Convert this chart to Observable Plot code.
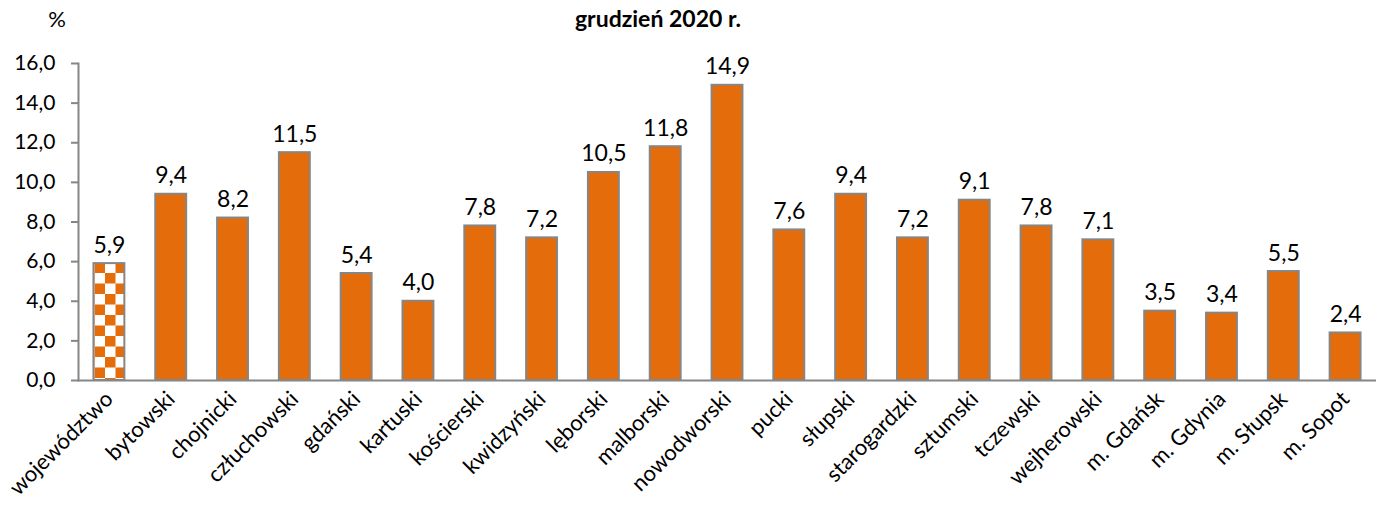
<!DOCTYPE html>
<html>
<head>
<meta charset="utf-8">
<script src="https://cdn.jsdelivr.net/npm/d3@7"></script>
<script src="https://cdn.jsdelivr.net/npm/@observablehq/plot@0.6"></script>
<style>
  html, body { margin: 0; padding: 0; background: #fff; }
  #wrap { position: relative; width: 1384px; height: 505px; font-family: Lato, "Open Sans", sans-serif; }
  #title { position: absolute; top: 4px; left: 658px; transform: translateX(-50%); font-weight: bold; font-size: 23px; color: #000; white-space: nowrap; }
  #unit { position: absolute; top: 5px; left: 57px; transform: translateX(-50%); font-size: 22px; color: #000; }
  svg { position: absolute; top: 0; left: 0; }
</style>
</head>
<body>
<div id="wrap">
  <div id="unit">%</div>
  <div id="title">grudzień 2020 r.</div>
</div>
<script>
const categories = ["województwo","bytowski","chojnicki","człuchowski","gdański","kartuski","kościerski","kwidzyński","lęborski","malborski","nowodworski","pucki","słupski","starogardzki","sztumski","tczewski","wejherowski","m. Gdańsk","m. Gdynia","m. Słupsk","m. Sopot"];
const values = [5.9,9.4,8.2,11.5,5.4,4.0,7.8,7.2,10.5,11.8,14.9,7.6,9.4,7.2,9.1,7.8,7.1,3.5,3.4,5.5,2.4];
const yTicks = [0,2,4,6,8,10,12,14,16];

const data = categories.map((c, i) => ({cat: c, v: values[i], total: i === 0}));
const fmt = d => d.toFixed(1).replace(".", ",");

const plot = Plot.plot({
  width: 1384,
  height: 505,
  marginLeft: 78,
  marginRight: 8,
  marginTop: 63,
  marginBottom: 125,
  style: {fontFamily: "Lato, 'Open Sans', sans-serif", background: "transparent", color: "#000"},
  x: {domain: categories, paddingInner: 0.5, paddingOuter: 0.25, round: false, label: null},
  y: {domain: [0, 16], label: null},
  marks: [
    Plot.axisY({ticks: yTicks, tickFormat: fmt, tickSize: 7, tickPadding: 16, stroke: "#868686", strokeWidth: 2, fontSize: 21, label: null}),
    Plot.axisX({tickSize: 0, tickPadding: 15, tickRotate: -45, fontSize: 22, label: null}),
    Plot.barY(data, {x: "cat", y: "v", fill: d => d.total ? "url(#checker)" : "#E46C0A", stroke: "#868686", strokeWidth: 2}),
    Plot.text(data, {x: "cat", y: "v", text: d => fmt(d.v), dy: -11, lineAnchor: "bottom", fontSize: 23, fill: "#000"}),
    Plot.ruleY([0], {stroke: "#868686", strokeWidth: 2}),
    Plot.frame({anchor: "left", stroke: "#868686", strokeWidth: 2})
  ]
});

const svgNS = "http://www.w3.org/2000/svg";
const defs = document.createElementNS(svgNS, "defs");
defs.innerHTML = `<pattern id="checker" patternUnits="userSpaceOnUse" width="21" height="21">
  <rect width="21" height="21" fill="#fff"/>
  <rect width="10.5" height="10.5" fill="#E46C0A"/>
  <rect x="10.5" y="10.5" width="10.5" height="10.5" fill="#E46C0A"/>
</pattern>`;
plot.insertBefore(defs, plot.firstChild);
document.getElementById("wrap").appendChild(plot);
</script>
</body>
</html>
